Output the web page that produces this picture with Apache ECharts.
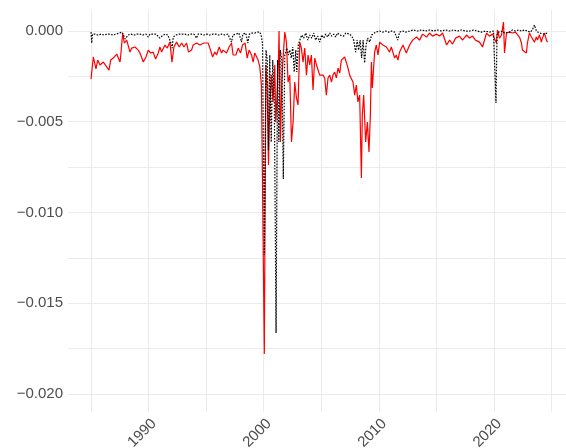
<!DOCTYPE html>
<html><head><meta charset="utf-8">
<script src="https://cdn.jsdelivr.net/npm/echarts@6/dist/echarts.min.js"></script>
<style>html,body{margin:0;padding:0;background:#fff}#c{width:566px;height:448px}</style>
</head><body><div id="c"></div>
<script>
// red solid series: [decimal year, value]
const redSeries = [
[1985.00,-0.00265],[1985.20,-0.00143],[1985.43,-0.00209],[1985.58,-0.0016],[1985.78,-0.00187],[1986.07,-0.00171],[1986.36,-0.00198],[1986.56,-0.00215],[1986.71,-0.0016],[1986.93,-0.00149],
[1987.23,-0.00127],[1987.37,-0.00116],[1987.52,-0.00171],[1987.60,-0.00121],[1987.75,-0.00011],[1987.89,-0.00066],[1988.10,-0.0005],[1988.38,-0.00116],[1988.53,-0.00094],[1988.82,-0.00088],
[1989.10,-0.00105],[1989.25,-0.00121],[1989.54,-0.00171],[1989.77,-0.00143],[1989.97,-0.00105],[1990.18,-0.00121],[1990.40,-0.00116],[1990.61,-0.00154],[1990.84,-0.00121],[1990.98,-0.00088],
[1991.13,-0.00116],[1991.42,-0.00077],[1991.62,-0.00094],[1991.85,-0.00061],[1992.03,-0.00171],[1992.20,-0.00088],[1992.43,-0.00061],[1992.66,-0.00088],[1992.87,-0.00066],[1993.07,-0.00088],
[1993.30,-0.00066],[1993.47,-0.00116],[1993.73,-0.00105],[1993.87,-0.00077],[1994.17,-0.00066],[1994.45,-0.00077],[1994.80,-0.00066],[1994.97,-0.00061],[1995.17,-0.00066],[1995.38,-0.00105],
[1995.56,-0.00143],[1995.75,-0.00116],[1995.90,-0.00132],[1996.13,-0.00088],[1996.34,-0.00121],[1996.47,-0.00105],[1996.77,-0.00121],[1996.99,-0.00088],[1997.20,-0.00066],[1997.34,-0.00132],
[1997.58,-0.00132],[1997.78,-0.00094],[1997.98,-0.00121],[1998.16,-0.00077],[1998.38,-0.00066],[1998.56,-0.00149],[1998.73,-0.00105],[1998.94,-0.00132],[1999.08,-0.00171],[1999.22,-0.00121],
[1999.37,-0.00132],[1999.51,-0.0016],[1999.66,-0.00198],[1999.80,-0.00298],[2000.05,-0.0178],[2000.18,-0.00187],[2000.29,-0.00298],[2000.41,-0.00739],[2000.52,-0.00424],[2000.67,-0.00243],
[2000.81,-0.00391],[2000.96,-0.00187],[2001.04,-0.00502],[2001.16,-0.00353],[2001.28,-0.00149],[2001.33,0],[2001.45,-0.00612],[2001.57,-0.00281],[2001.68,-0.00149],[2001.83,-0.00006],
[2001.97,-0.00061],[2002.11,-0.00281],[2002.26,-0.00243],[2002.41,-0.00612],[2002.55,-0.00502],[2002.69,-0.00281],[2002.84,-0.00369],[2002.98,-0.00408],[2003.13,-0.00061],[2003.27,-0.00094],
[2003.41,-0.00171],[2003.56,-0.00094],[2003.71,-0.00243],[2003.85,-0.00132],[2003.99,-0.00187],[2004.14,-0.00132],[2004.28,-0.00325],[2004.43,-0.00149],[2004.58,-0.00187],[2004.71,-0.00187],
[2004.86,-0.00243],[2005.01,-0.00232],[2005.15,-0.00243],[2005.29,-0.00259],[2005.44,-0.00353],[2005.58,-0.00259],[2005.73,-0.00243],[2005.88,-0.00281],[2006.01,-0.00243],[2006.16,-0.00226],
[2006.31,-0.00259],[2006.45,-0.00204],[2006.60,-0.00232],[2006.74,-0.0016],[2006.88,-0.00149],[2007.03,-0.00143],[2007.18,-0.00149],[2007.32,-0.00204],[2007.46,-0.00243],[2007.61,-0.00243],
[2007.75,-0.00281],[2007.90,-0.00353],[2008.04,-0.00298],[2008.18,-0.00391],[2008.33,-0.00353],[2008.48,-0.0081],[2008.56,-0.00463],[2008.68,-0.00353],[2008.85,-0.00612],[2009.00,-0.00502],
[2009.14,-0.00667],[2009.26,-0.00463],[2009.35,-0.00171],[2009.43,-0.00314],[2009.63,-0.00116],[2009.78,-0.00077],[2009.92,-0.00132],[2010.07,-0.00061],[2010.35,-0.00077],[2010.65,-0.00088],
[2010.93,-0.00116],[2011.08,-0.00088],[2011.37,-0.00149],[2011.51,-0.00132],[2011.65,-0.0016],[2011.80,-0.00116],[2012.09,-0.00077],[2012.38,-0.00121],[2012.67,-0.00077],[2012.93,-0.0005],
[2013.27,-0.00033],[2013.53,-0.0005],[2013.79,-0.00017],[2014.14,-0.00033],[2014.40,-0.00011],[2014.66,-0.00028],[2015.01,-0.00017],[2015.27,-0.00028],[2015.53,-0.00011],[2015.88,-0.00077],
[2016.14,-0.0005],[2016.40,-0.00072],[2016.66,-0.00039],[2017.00,-0.00028],[2017.26,-0.0005],[2017.61,-0.00022],[2017.87,-0.00039],[2018.13,-0.00028],[2018.39,-0.0005],[2018.74,-0.00061],
[2019.00,-0.00088],[2019.35,-0.00011],[2019.60,-0.00028],[2019.87,-0.00017],[2020.04,-0.00011],[2020.21,-0.00066],[2020.30,0.00006],[2020.47,-0.00039],[2020.65,-0.00022],[2020.82,0.0005],
[2020.91,-0.00121],[2021.08,-0.00011],[2021.34,-0.00006],[2021.60,-0.00011],[2021.86,-0.00006],[2022.03,-0.00011],[2022.21,-0.00033],[2022.38,-0.00066],[2022.47,-0.00105],[2022.64,-0.00116],
[2022.81,-0.00121],[2022.90,-0.00066],[2023.07,-0.00011],[2023.25,-0.00033],[2023.33,-0.00022],[2023.51,-0.00061],[2023.68,-0.00033],[2023.77,-0.0005],[2023.94,-0.00022],[2024.11,-0.00061],
[2024.20,-0.00039],[2024.38,-0.00011],[2024.55,-0.0005],[2024.64,-0.00061]
];
// black dotted series: [decimal year, value]
const blackSeries = [
[1985.00,-0.00006],[1985.06,-0.00066],[1985.13,-0.00017],[1985.35,-0.00017],[1985.61,-0.00022],[1985.87,-0.00017],[1986.13,-0.00022],[1986.39,-0.00017],[1986.65,-0.00017],[1986.91,-0.00022],
[1987.17,-0.00017],[1987.43,-0.00011],[1987.69,-0.00006],[1987.86,-0.00017],[1987.97,-0.00044],[1988.10,-0.0005],[1988.21,-0.00022],[1988.47,-0.00017],[1988.73,-0.00022],[1988.99,-0.00017],
[1989.25,-0.00017],[1989.51,-0.00022],[1989.77,-0.00017],[1989.97,-0.00033],[1990.12,-0.00017],[1990.38,-0.00017],[1990.64,-0.00017],[1990.81,-0.00022],[1990.98,-0.00039],[1991.16,-0.00028],
[1991.42,-0.00017],[1991.68,-0.00022],[1991.85,-0.00033],[1992.00,-0.00077],[1992.05,-0.00094],[1992.14,-0.00033],[1992.37,-0.00022],[1992.63,-0.00017],[1992.89,-0.00017],[1993.15,-0.00017],
[1993.41,-0.00022],[1993.67,-0.00017],[1993.93,-0.00017],[1994.17,-0.00039],[1994.28,-0.00017],[1994.54,-0.00017],[1994.80,-0.00022],[1995.06,-0.00017],[1995.32,-0.00022],[1995.58,-0.00017],
[1995.84,-0.00017],[1996.10,-0.00022],[1996.36,-0.00017],[1996.62,-0.00022],[1996.88,-0.00017],[1997.20,-0.00061],[1997.32,-0.00022],[1997.58,-0.00017],[1997.84,-0.00011],[1998.07,-0.00061],
[1998.18,-0.00017],[1998.44,-0.00011],[1998.62,-0.00066],[1998.75,-0.00017],[1998.96,-0.00011],[1999.22,-0.00011],[1999.48,-0.00006],[1999.66,-0.00006],[1999.79,-0.00028],[1999.89,-0.00066],
[2000.05,-0.01235],[2000.20,-0.00105],[2000.31,-0.0016],[2000.41,-0.00656],[2000.52,-0.00132],[2000.65,-0.00612],[2000.78,-0.0016],[2000.92,-0.0038],[2001.07,-0.01665],[2001.20,-0.0016],
[2001.31,-0.00612],[2001.44,-0.00105],[2001.57,-0.0016],[2001.70,-0.00816],[2001.83,-0.00132],[2002.00,-0.00094],[2002.13,-0.00132],[2002.26,-0.00105],[2002.39,-0.00149],[2002.52,-0.00088],
[2002.65,-0.00226],[2002.78,-0.00105],[2002.87,-0.00226],[2003.00,-0.00077],[2003.13,-0.0005],[2003.30,-0.00022],[2003.47,-0.00039],[2003.65,-0.00011],[2003.82,-0.0005],[2003.99,-0.00022],
[2004.17,-0.00039],[2004.34,-0.00011],[2004.51,-0.0005],[2004.69,-0.00028],[2004.86,-0.00061],[2005.03,-0.00022],[2005.21,-0.00039],[2005.38,-0.00017],[2005.55,-0.00033],[2005.73,-0.00011],
[2005.90,-0.00028],[2006.08,-0.00017],[2006.25,-0.00033],[2006.42,-0.00011],[2006.60,-0.00022],[2006.77,-0.00011],[2006.94,-0.00028],[2007.12,-0.00011],[2007.29,-0.00022],[2007.46,-0.00017],
[2007.64,-0.00028],[2007.81,-0.0005],[2007.98,-0.00116],[2008.11,-0.0005],[2008.24,-0.00105],[2008.37,-0.0005],[2008.50,-0.00149],[2008.63,-0.0005],[2008.76,-0.00176],[2008.89,-0.00077],
[2009.02,-0.00039],[2009.20,-0.00061],[2009.37,-0.00022],[2009.54,-0.00011],[2009.72,-0.00006],[2009.89,-0.00011],[2010.07,0],[2010.33,-0.00006],[2010.59,0],[2010.85,-0.00006],
[2011.11,0],[2011.37,-0.00006],[2011.63,-0.0005],[2011.80,-0.00006],[2012.06,0],[2012.32,-0.00006],[2012.67,0],[2013.01,0.00006],[2013.36,0],[2013.71,0.00006],
[2014.05,0],[2014.40,0.00006],[2014.75,0],[2015.10,0.00006],[2015.44,0],[2015.79,0.00006],[2016.14,0],[2016.48,0.00006],[2016.83,0],[2017.18,0.00006],
[2017.52,0],[2017.87,0],[2018.22,0.00006],[2018.56,0],[2018.91,-0.00006],[2019.26,0],[2019.60,-0.00006],[2019.95,0],[2020.08,-0.00011],[2020.17,-0.00397],
[2020.26,-0.00022],[2020.39,-0.00006],[2020.56,-0.00017],[2020.73,0],[2020.91,-0.00011],[2021.08,0],[2021.34,-0.00006],[2021.60,0.00006],[2021.86,0],[2022.12,0.00006],
[2022.38,0],[2022.64,0.00006],[2022.90,0],[2023.16,-0.00006],[2023.33,0.00006],[2023.51,0.00033],[2023.68,0],[2023.94,-0.00011],[2024.11,-0.00006],[2024.38,-0.00017],
[2024.64,-0.00011]
];
const xLabelYears = [1990, 2000, 2010, 2020];
const yLabelValues = [0, -0.005, -0.010, -0.015, -0.020];

const chart = echarts.init(document.getElementById('c'), null, {renderer: 'canvas'});
const font = 'Liberation Sans, Arial, Helvetica, sans-serif';
const gridColor = '#ebebeb';
chart.setOption({
  animation: false,
  backgroundColor: '#ffffff',
  grid: {left: 68, right: 0, top: 10, bottom: 36, containLabel: false, outerBoundsMode: 'none'},
  xAxis: {
    type: 'value', min: 1983.0, max: 2026.25, splitNumber: 8, minInterval: 5, maxInterval: 5,
    axisLine: {show: false}, axisTick: {show: false},
    splitLine: {show: true, showMinLine: false, showMaxLine: false, lineStyle: {color: gridColor, width: 1}},
    axisLabel: {
      rotate: 45, margin: 4, color: '#4d4d4d', fontSize: 15, fontFamily: font,
      align: 'right', verticalAlign: 'top',
      showMinLabel: false, showMaxLabel: false,
      formatter: function (v) {
        const r = Math.round(v);
        return (Math.abs(v - r) < 1e-6 && xLabelYears.indexOf(r) >= 0) ? String(r) : '';
      }
    }
  },
  yAxis: {
    type: 'value', min: -0.021, max: 0.00116, splitNumber: 9, minInterval: 0.0025, maxInterval: 0.0025,
    axisLine: {show: false}, axisTick: {show: false},
    splitLine: {show: true, showMinLine: false, showMaxLine: false, lineStyle: {color: gridColor, width: 1}},
    axisLabel: {
      margin: 5, color: '#4d4d4d', fontSize: 15, fontFamily: font,
      showMinLabel: false, showMaxLabel: false,
      formatter: function (v) {
        for (const t of yLabelValues) {
          if (Math.abs(v - t) < 1e-9) return (t < 0 ? '\u2212' : '') + Math.abs(t).toFixed(3);
        }
        return '';
      }
    }
  },
  series: [
    {type: 'line', data: redSeries, showSymbol: false, symbol: 'none', z: 2,
     lineStyle: {color: '#ff0000', width: 1.2}},
    {type: 'line', data: blackSeries, showSymbol: false, symbol: 'none', z: 3,
     lineStyle: {color: '#000000', width: 1.2, type: [1.6, 1.4]}}
  ]
});
</script>
</body></html>
